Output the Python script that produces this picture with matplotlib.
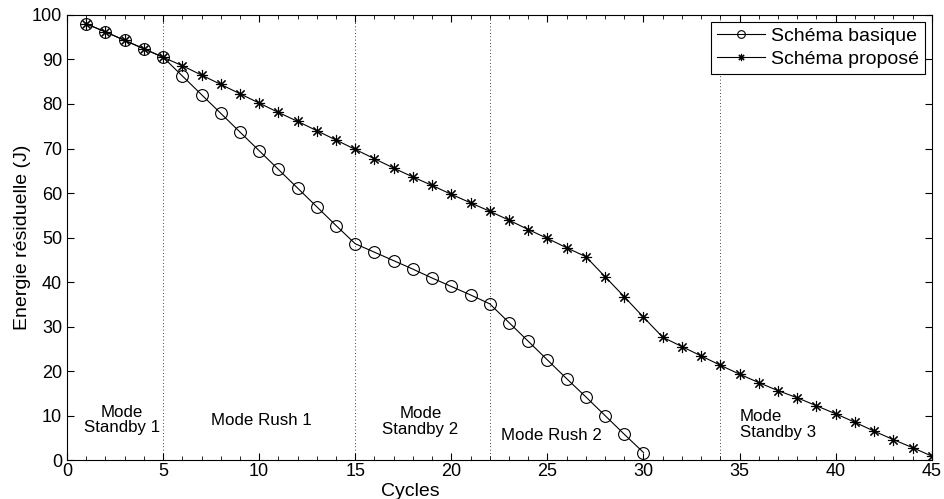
import numpy as np
import matplotlib
matplotlib.use('Agg')
import matplotlib.pyplot as plt
from matplotlib.ticker import MultipleLocator

plt.rcParams['font.family'] = ['Liberation Sans', 'DejaVu Sans']

# Schéma basique (cercles), cycles 1..30
cycles_basique = np.arange(1, 31)
energie_basique = [98.0, 96.2, 94.3, 92.4, 90.5, 86.3, 82.1, 77.9, 73.7, 69.5,
                   65.3, 61.1, 56.9, 52.7, 48.6, 46.7, 44.8, 42.9, 40.9, 39.0,
                   37.1, 35.1, 30.9, 26.7, 22.5, 18.3, 14.2, 10.0, 5.8, 1.7]

# Schéma proposé (astérisques), cycles 1..45
cycles_propose = np.arange(1, 46)
energie_propose = [98.0, 96.2, 94.3, 92.4, 90.5, 88.6, 86.5, 84.4, 82.3, 80.2,
                   78.1, 76.1, 74.0, 71.9, 69.8, 67.7, 65.6, 63.6, 61.7, 59.7,
                   57.8, 55.9, 53.9, 51.8, 49.8, 47.7, 45.7, 41.2, 36.7, 32.1,
                   27.6, 25.5, 23.4, 21.3, 19.3, 17.4, 15.6, 14.0, 12.2, 10.4,
                   8.5, 6.5, 4.6, 2.8, 0.9]

# limites des modes
limites_modes = [5, 15, 22, 34]

fig = plt.figure(figsize=(9.44, 4.99), dpi=100)
ax = fig.add_axes([0.071, 0.078, 0.916, 0.892])

ax.plot(cycles_basique, energie_basique, color='black', linewidth=0.8,
        marker='o', markersize=8.5, markerfacecolor='none',
        markeredgecolor='black', markeredgewidth=0.8, label='Schéma basique')
ax.plot(cycles_propose, energie_propose, color='black', linewidth=0.8,
        marker=(8, 2, 0), markersize=8, markeredgewidth=0.8,
        label='Schéma proposé')

for xl in limites_modes:
    ax.axvline(xl, color='black', linestyle=(0, (1, 3)), linewidth=0.6)

fs = 12.2
ax.text(2.85, 9, 'Mode\nStandby 1', ha='center', va='center', fontsize=fs, linespacing=1.05)
ax.text(10.1, 8.8, 'Mode Rush 1', ha='center', va='center', fontsize=fs)
ax.text(18.4, 8.6, 'Mode\nStandby 2', ha='center', va='center', fontsize=fs, linespacing=1.05)
ax.text(25.2, 5.6, 'Mode Rush 2', ha='center', va='center', fontsize=fs)
ax.text(35.0, 8.0, 'Mode\nStandby 3', ha='left', va='center', fontsize=fs, linespacing=1.05)

ax.set_xlim(0, 45)
ax.set_ylim(0, 100)
ax.xaxis.set_major_locator(MultipleLocator(5))
ax.xaxis.set_minor_locator(MultipleLocator(1))
ax.yaxis.set_major_locator(MultipleLocator(10))
ax.tick_params(which='both', direction='in', top=True, right=True, labelsize=13)
ax.tick_params(which='major', length=5, width=0.8)
ax.tick_params(which='minor', length=3, width=0.6)
ax.tick_params(axis='x', pad=2)
for sp in ax.spines.values():
    sp.set_linewidth(0.8)

ax.set_xlabel('Cycles', fontsize=14)
ax.xaxis.set_label_coords(0.397, -0.052)
ax.set_ylabel('Energie résiduelle (J)', fontsize=14, labelpad=1)

leg = ax.legend(loc='upper right', fontsize=14, fancybox=False, framealpha=1,
                edgecolor='black', handlelength=2.5, borderpad=0.3, markerscale=0.65,
                labelspacing=0.25, handletextpad=0.3, borderaxespad=0.35)
leg.get_frame().set_linewidth(0.8)

fig.savefig('out.png', dpi=100)
